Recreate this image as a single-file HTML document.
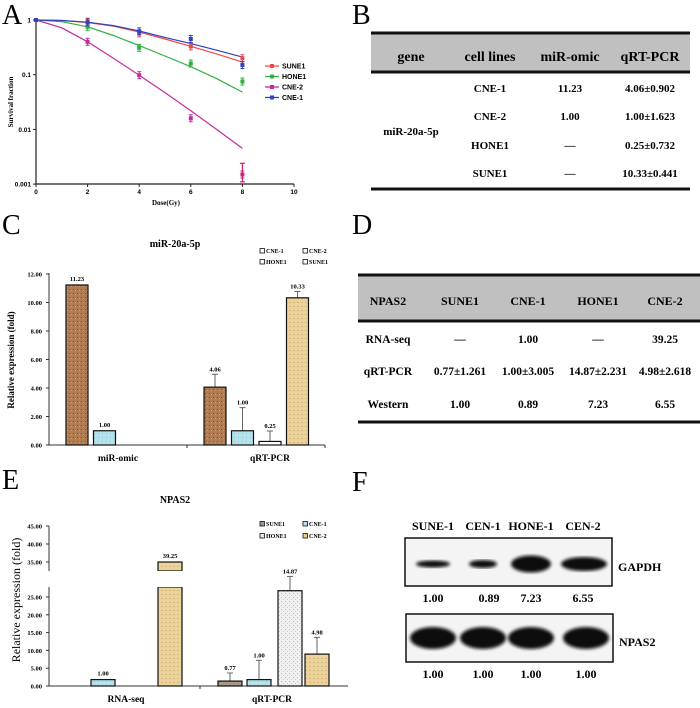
<!DOCTYPE html>
<html><head><meta charset="utf-8"><style>
html,body{margin:0;padding:0;background:#fff}
svg{display:block}
text{font-family:"Liberation Serif",serif}
.b{font-weight:bold}
.s{font-family:"Liberation Sans",sans-serif}
</style></head>
<body>
<svg id="fig" width="700" height="708" viewBox="0 0 700 708" xmlns="http://www.w3.org/2000/svg">
<defs>
<pattern id="pBrown" width="4" height="4" patternUnits="userSpaceOnUse"><rect width="4" height="4" fill="#b27c52"/><rect x="1" y="1" width="1" height="1" fill="#7e5230"/><rect x="3" y="2" width="1" height="1" fill="#d09a6c"/></pattern>
<pattern id="pBlue" width="4" height="4" patternUnits="userSpaceOnUse"><rect width="4" height="4" fill="#b4e2ec"/><rect x="2" y="1" width="1" height="1" fill="#8cc6d4"/></pattern>
<pattern id="pTan" width="4" height="4" patternUnits="userSpaceOnUse"><rect width="4" height="4" fill="#ead29c"/><rect x="1" y="2" width="2" height="1" fill="#d8b878"/></pattern>
<pattern id="pGray" width="4" height="4" patternUnits="userSpaceOnUse"><rect width="4" height="4" fill="#f0f0f0"/><rect x="1" y="1" width="1" height="1" fill="#b8b8b8"/><rect x="3" y="3" width="1" height="1" fill="#c8c8c8"/></pattern>
<pattern id="pSune" width="4" height="4" patternUnits="userSpaceOnUse"><rect width="4" height="4" fill="#a89888"/><rect x="1" y="1" width="1" height="1" fill="#786858"/></pattern>
<filter id="blur"><feGaussianBlur stdDeviation="1.6"/></filter>
</defs>

<text x="2" y="24" font-size="28">A</text>
<text x="352" y="24" font-size="28">B</text>
<text x="2" y="234" font-size="28">C</text>
<text x="352" y="234" font-size="28">D</text>
<text x="2" y="489" font-size="28">E</text>
<text x="352" y="491" font-size="28">F</text>

<g id="panelA"></g>
<g id="panelB"></g>
<g id="panelC"></g>
<g id="panelD"></g>
<g id="panelE"></g>
<g id="panelF"></g>
</svg>
<script>
// ---------- Panel A data ----------
const aSeries = ['SUNE1','HONE1','CNE-2','CNE-1'];
const aColors = ['#f04848','#30b040','#c02ca0','#3040c0'];
const aDoses = [0,2,4,6,8];
const aSune1 = [1,0.93,0.57,0.33,0.2];
const aHone1 = [1,0.75,0.31,0.16,0.075];
const aCne2 = [1,0.4,0.098,0.016,0.0015];
const aCne1 = [1,0.9,0.62,0.45,0.15];
const aFitDoses = [0,1,2,3,4,5,6,7,8];
const aFitSune1 = [1,0.98,0.9,0.77,0.6,0.45,0.33,0.24,0.17];
const aFitHone1 = [1,0.93,0.75,0.52,0.34,0.22,0.14,0.085,0.048];
const aFitCne2 = [1,0.72,0.4,0.2,0.098,0.047,0.022,0.01,0.0045];
const aFitCne1 = [1,0.98,0.91,0.79,0.63,0.48,0.37,0.28,0.21];
const aXTicks = [0,2,4,6,8,10];
const aYTicks = [1,0.1,0.01,0.001];
const aYTickLabels = ['1','0.1','0.01','0.001'];

// ---------- Panel C data ----------
const cGroups = ['miR-omic','qRT-PCR'];
const cSeries = ['CNE-1','CNE-2','HONE1','SUNE1'];
const cMirOmic = [11.23,1.00,null,null];
const cQrt = [4.06,1.00,0.25,10.33];
const cQrtErr = [0.902,1.623,0.732,0.441];
const cYTicks = [0,2,4,6,8,10,12];

// ---------- Panel E data ----------
const eGroups = ['RNA-seq','qRT-PCR'];
const eSeries = ['SUNE1','CNE-1','HONE1','CNE-2'];
const eRnaSeq = [null,1.00,null,39.25];
const eQrt = [0.77,1.00,14.87,4.98];
const eQrtErr = [1.261,3.005,2.231,2.618];
const eYTicksLow = [0,5,10,15,20,25];
const eYTicksHigh = [35,40,45];

// ---------- Panel F data ----------
const fLanes = ['SUNE-1','CEN-1','HONE-1','CEN-2'];
const fGapdh = [1.00,0.89,7.23,6.55];
const fNpas2 = [1.00,1.00,1.00,1.00];

const NS='http://www.w3.org/2000/svg';
function mk(parent,tag,attrs,txt){const e=document.createElementNS(NS,tag);for(const k in attrs)e.setAttribute(k,attrs[k]);if(txt!==undefined)e.textContent=txt;parent.appendChild(e);return e;}

// ================= Panel A =================
(function(){
const g=document.getElementById('panelA');
const x=d=>36+d*25.8;
const y=v=>20-Math.log10(v)*54.7;
let e;
e=mk(g,'line',{x1:36,y1:18,x2:36,y2:184,stroke:'#222','stroke-width':1.2});

e=mk(g,'line',{x1:36,y1:184,x2:294,y2:184,stroke:'#222','stroke-width':1.2});

aXTicks.forEach(t=>{
 mk(g,'line',{x1:x(t),y1:184,x2:x(t),y2:187,stroke:'#222'});
 e=mk(g,'text',{x:x(t),y:194,'font-size':6.5,'text-anchor':'middle',class:'s b'},String(t));
 
});
aYTicks.forEach((t,i)=>{
 mk(g,'line',{x1:33,y1:y(t),x2:36,y2:y(t),stroke:'#222'});
 e=mk(g,'text',{x:31,y:y(t)+2.5,'font-size':6.5,'text-anchor':'end',class:'s b'},aYTickLabels[i]);
 
});
e=mk(g,'text',{x:166,y:205,'font-size':7,'text-anchor':'middle',class:'b'},'Dose(Gy)');

e=mk(g,'text',{x:0,y:0,'font-size':7,'text-anchor':'middle',class:'b',transform:'translate(13,102) rotate(-90)'},'Survival fraction');

const pts=[aSune1,aHone1,aCne2,aCne1];
const fits=[aFitSune1,aFitHone1,aFitCne2,aFitCne1];
fits.forEach((f,si)=>{
 let d='';f.forEach((v,i)=>{d+=(i?'L':'M')+x(aFitDoses[i]).toFixed(1)+','+y(v).toFixed(1);});
 e=mk(g,'path',{d:d,fill:'none',stroke:aColors[si],'stroke-width':1.2});
 
});
pts.forEach((p,si)=>{
 p.forEach((v,i)=>{
  const cx=x(aDoses[i]),cy=y(v);
  e=mk(g,'rect',{x:cx-2,y:cy-2,width:4,height:4,fill:aColors[si]});
  
  if(i>0){mk(g,'line',{x1:cx,y1:cy-3.5,x2:cx,y2:cy+3.5,stroke:aColors[si]});mk(g,'line',{x1:cx-2,y1:cy-3.5,x2:cx+2,y2:cy-3.5,stroke:aColors[si]});mk(g,'line',{x1:cx-2,y1:cy+3.5,x2:cx+2,y2:cy+3.5,stroke:aColors[si]});}
 });
});
mk(g,'line',{x1:x(8),y1:y(0.0024),x2:x(8),y2:y(0.0011),stroke:'#d02060','stroke-width':1.2});
mk(g,'line',{x1:x(8)-2.5,y1:y(0.0024),x2:x(8)+2.5,y2:y(0.0024),stroke:'#d02060','stroke-width':1.2});
mk(g,'line',{x1:x(8)-2.5,y1:y(0.0011),x2:x(8)+2.5,y2:y(0.0011),stroke:'#d02060','stroke-width':1.2});
aSeries.forEach((s,i)=>{
 const ly=66+i*10.5;
 e=mk(g,'g',{});
 
 mk(e,'line',{x1:265,y1:ly,x2:279,y2:ly,stroke:aColors[i],'stroke-width':1.3});
 mk(e,'rect',{x:270,y:ly-2,width:4,height:4,fill:aColors[i]});
 mk(e,'text',{x:282,y:ly+2.5,'font-size':7,class:'s b'},s);
});
})();

// ================= Table helper =================
function table(gid,x1,x2,top,hBot,bottom,cols,head,rows,rowY,hy,hs,bs,prefix){
 const g=document.getElementById(gid);let e;
 e=mk(g,'rect',{x:x1,y:top,width:x2-x1,height:hBot-top,fill:'#c0c0c0'});
 
 mk(g,'rect',{x:x1,y:top-1.5,width:x2-x1,height:3,fill:'#111'});
 mk(g,'rect',{x:x1,y:hBot-1.5,width:x2-x1,height:3,fill:'#111'});
 mk(g,'rect',{x:x1,y:bottom-1.5,width:x2-x1,height:3,fill:'#111'});
 head.forEach((h,i)=>{e=mk(g,'text',{x:cols[i],y:hy,'font-size':hs,'text-anchor':'middle',class:'b'},h);
  });
 rows.forEach((r,ri)=>r.forEach((c,ci)=>{if(c===null)return;
  e=mk(g,'text',{x:cols[ci],y:rowY[ri],'font-size':bs,'text-anchor':'middle',class:'b'},c);
  }));
 return g;
}
const gb=table('panelB',371,690,33,72,189,[411,490,570,650],['gene','cell lines','miR-omic','qRT-PCR'],
 [[null,'CNE-1','11.23','4.06±0.902'],[null,'CNE-2','1.00','1.00±1.623'],[null,'HONE1','—','0.25±0.732'],[null,'SUNE1','—','10.33±0.441']],
 [92,120,149,177],61,14,11,'b-table');
(function(){const e=mk(gb,'text',{x:411,y:135,'font-size':11,'text-anchor':'middle',class:'b'},'miR-20a-5p');
})();
table('panelD',358,700,275,321,422,[388,460,528,598,665],['NPAS2','SUNE1','CNE-1','HONE1','CNE-2'],
 [['RNA-seq','—','1.00','—','39.25'],['qRT-PCR','0.77±1.261','1.00±3.005','14.87±2.231','4.98±2.618'],['Western','1.00','0.89','7.23','6.55']],
 [343,375,408],305,12,11.5,'d-table');

// ================= Panel C =================
(function(){
const g=document.getElementById('panelC');let e;
const y=v=>445-v*14.25;
const fills=['url(#pBrown)','url(#pBlue)','#ffffff','url(#pTan)'];
const groupStart=[66,204],step=27.5,bw=22;
e=mk(g,'text',{x:175,y:247,'font-size':10,'text-anchor':'middle',class:'b'},'miR-20a-5p');

e=mk(g,'line',{x1:49,y1:273,x2:49,y2:445,stroke:'#333'});

e=mk(g,'line',{x1:49,y1:445,x2:325,y2:445,stroke:'#333'});

mk(g,'line',{x1:187,y1:445,x2:187,y2:448,stroke:'#333'});
mk(g,'line',{x1:325,y1:445,x2:325,y2:448,stroke:'#333'});
cYTicks.forEach(t=>{mk(g,'line',{x1:46,y1:y(t),x2:49,y2:y(t),stroke:'#333'});
 e=mk(g,'text',{x:42,y:y(t)+2.5,'font-size':6.5,'text-anchor':'end',class:'b'},t.toFixed(2));
 });
e=mk(g,'text',{x:0,y:0,'font-size':9,'text-anchor':'middle',class:'b',transform:'translate(14,360) rotate(-90)'},'Relative expression (fold)');

cGroups.forEach((gn,gi)=>{e=mk(g,'text',{x:gi?270:118,y:461,'font-size':9.5,'text-anchor':'middle',class:'b'},gn);
 });
[cMirOmic,cQrt].forEach((arr,gi)=>arr.forEach((v,i)=>{
 if(v===null)return;
 const bx=groupStart[gi]+i*step;
 if(gi===1){const et=y(v+cQrtErr[i]);mk(g,'line',{x1:bx+bw/2,y1:y(v),x2:bx+bw/2,y2:et,stroke:'#666'});mk(g,'line',{x1:bx+bw/2-3,y1:et,x2:bx+bw/2+3,y2:et,stroke:'#666'});}
 e=mk(g,'rect',{x:bx,y:y(v),width:bw,height:445-y(v),fill:fills[i],stroke:'#111','stroke-width':1.2});
 
 const ly=gi===1?y(v+cQrtErr[i])-3:y(v)-4;
 e=mk(g,'text',{x:bx+bw/2,y:ly,'font-size':6.5,'text-anchor':'middle',class:'b'},v.toFixed(2));
 
}));
const lp=[[260,253],[303,253],[260,264],[303,264]];
cSeries.forEach((s,i)=>{e=mk(g,'g',{});
 
 mk(e,'rect',{x:lp[i][0],y:lp[i][1]-4.5,width:4.5,height:4.5,fill:'#fff',stroke:'#111','stroke-width':0.8});
 mk(e,'text',{x:lp[i][0]+6,y:lp[i][1],'font-size':6,class:'b'},s);});
})();

// ================= Panel E =================
(function(){
const g=document.getElementById('panelE');let e;
const k=1.8;
const yl=v=>686-v*3.56;
const yh=v=>562-(v-35)*3.6;
const fills=['url(#pSune)','url(#pBlue)','url(#pGray)','url(#pTan)'];
const centers=[[70,103,137,170],[230,259,290,317]];const bw=24;
e=mk(g,'text',{x:175,y:503,'font-size':10,'text-anchor':'middle',class:'b'},'NPAS2');

e=mk(g,'line',{x1:49,y1:526,x2:49,y2:571,stroke:'#333'});

e=mk(g,'line',{x1:49,y1:587,x2:49,y2:686,stroke:'#333'});

e=mk(g,'line',{x1:49,y1:686,x2:348,y2:686,stroke:'#333'});

mk(g,'line',{x1:200,y1:686,x2:200,y2:689,stroke:'#333'});
eYTicksLow.forEach(t=>{mk(g,'line',{x1:46,y1:yl(t),x2:49,y2:yl(t),stroke:'#333'});
 e=mk(g,'text',{x:42,y:yl(t)+2.5,'font-size':6.5,'text-anchor':'end',class:'b'},t.toFixed(2));
 });
eYTicksHigh.forEach(t=>{mk(g,'line',{x1:46,y1:yh(t),x2:49,y2:yh(t),stroke:'#333'});
 e=mk(g,'text',{x:42,y:yh(t)+2.5,'font-size':6.5,'text-anchor':'end',class:'b'},t.toFixed(2));
 });
e=mk(g,'text',{x:0,y:0,'font-size':12,'text-anchor':'middle',transform:'translate(20,600) rotate(-90)'},'Relative expression (fold)');

eGroups.forEach((gn,gi)=>{e=mk(g,'text',{x:gi?272:126,y:702,'font-size':9.5,'text-anchor':'middle',class:'b'},gn);
 });
[eRnaSeq,eQrt].forEach((arr,gi)=>arr.forEach((v,i)=>{
 if(v===null)return;
 const cx=centers[gi][i],pv=v*k;let ly;
 if(gi===1){const et=yl((v+eQrtErr[i])*k);mk(g,'line',{x1:cx,y1:yl(pv),x2:cx,y2:et,stroke:'#666'});mk(g,'line',{x1:cx-3,y1:et,x2:cx+3,y2:et,stroke:'#666'});ly=et-3;}
 if(pv>28){
  // broken-axis bar: capped at 35 on the upper segment
  const top=yh(Math.min(pv,35));
  e=mk(g,'rect',{x:cx-bw/2,y:587,width:bw,height:99,fill:fills[i],stroke:'#111','stroke-width':1.2});
  
  e=mk(g,'rect',{x:cx-bw/2,y:top,width:bw,height:571-top,fill:fills[i],stroke:'#111','stroke-width':1.2});
  
  mk(g,'rect',{x:cx-bw/2-1,y:571,width:bw+2,height:16,fill:'#fff'});
  if(gi===0)ly=top-4;
 }else{
  e=mk(g,'rect',{x:cx-bw/2,y:yl(pv),width:bw,height:686-yl(pv),fill:fills[i],stroke:'#111','stroke-width':1.2});
  
  if(gi===0)ly=yl(pv)-4;
 }
 e=mk(g,'text',{x:cx,y:ly,'font-size':6.5,'text-anchor':'middle',class:'b'},v.toFixed(2));
 
}));
const lp=[[260,526],[303,526],[260,538],[303,538]];
eSeries.forEach((s,i)=>{e=mk(g,'g',{});
 
 mk(e,'rect',{x:lp[i][0],y:lp[i][1]-4.5,width:4.5,height:4.5,fill:fills[i],stroke:'#111','stroke-width':0.8});
 mk(e,'text',{x:lp[i][0]+6,y:lp[i][1],'font-size':6,class:'b'},s);});
})();

// ================= Panel F =================
(function(){
const g=document.getElementById('panelF');let e;
const laneX=[433,483,531,583];
const gapW=[34,28,40,46],gapH=[7,8,17,14];
fLanes.forEach((l,i)=>{e=mk(g,'text',{x:laneX[i],y:530,'font-size':12,'text-anchor':'middle',class:'b'},l);
 });
e=mk(g,'rect',{x:405,y:538,width:207,height:48,fill:'#f4f4f4',stroke:'#111','stroke-width':1.5});

e=mk(g,'rect',{x:406,y:614,width:207,height:48,fill:'#f4f4f4',stroke:'#111','stroke-width':1.5});

fGapdh.forEach((v,i)=>{
 e=mk(g,'ellipse',{cx:laneX[i]+(i===3?1:0),cy:564,rx:gapW[i]/2,ry:gapH[i]/2,fill:'#111',filter:'url(#blur)'});
 
 e=mk(g,'text',{x:laneX[i]+(i===1?6:0),y:602,'font-size':12,'text-anchor':'middle',class:'b'},v.toFixed(2));
 
});
fNpas2.forEach((v,i)=>{
 e=mk(g,'ellipse',{cx:laneX[i]+(i===3?3:0),cy:638,rx:23,ry:11,fill:'#0a0a0a',filter:'url(#blur)'});
 
 e=mk(g,'text',{x:laneX[i]+(i===3?3:0),y:678,'font-size':12,'text-anchor':'middle',class:'b'},v.toFixed(2));
 
});
e=mk(g,'text',{x:618,y:571,'font-size':12,class:'b'},'GAPDH');

e=mk(g,'text',{x:619,y:646,'font-size':12,class:'b'},'NPAS2');

})();
</script>
</body></html>
